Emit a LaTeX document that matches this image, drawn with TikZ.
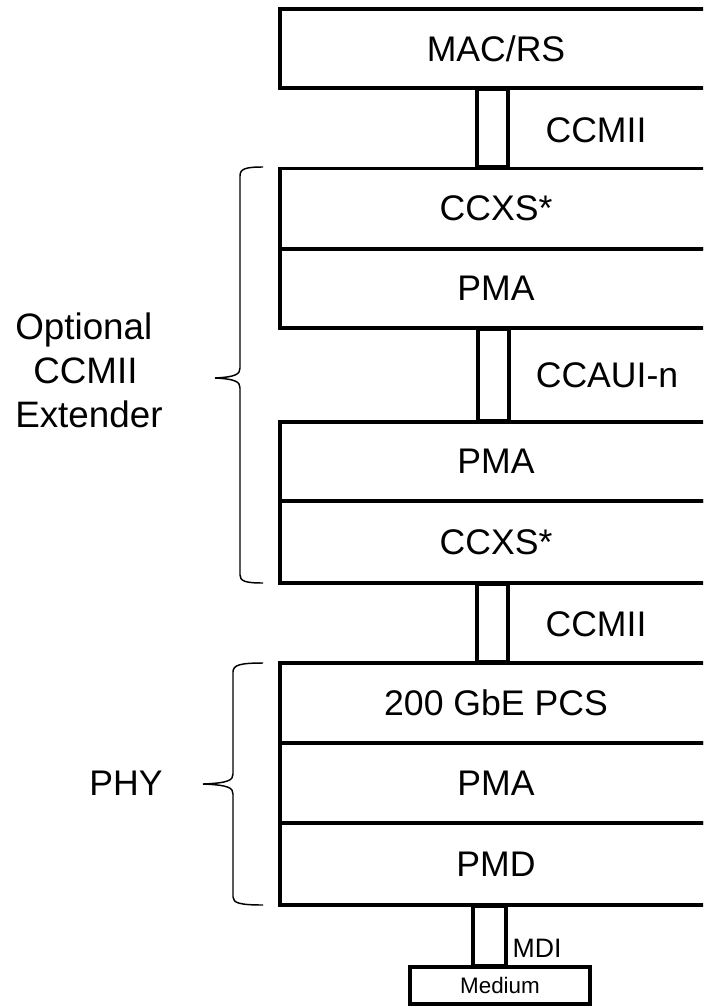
\documentclass[tikz,border=0pt]{standalone}
\usepackage{fontspec}
\setmainfont{Liberation Sans}
\usetikzlibrary{calc}
\newcommand{\layerfont}{\fontsize{26.7}{33}\selectfont}

\begin{document}
\begin{tikzpicture}[x=0.75pt,y=-0.75pt,
  layer/.style={draw,line width=2.6pt,rectangle,minimum width=324pt,minimum height=60pt,inner sep=0pt,font=\layerfont},
  link/.style={draw,line width=2.6pt},
  brc/.style={draw,line width=1.1pt},
  lbl/.style={font=\layerfont,inner sep=0pt}]
\useasboundingbox (0,0) rectangle (703,1006);
\clip (0,0) rectangle (703,1006);
% layers
\node[layer,minimum height=59.25pt] (MAC) at (496,48.5) {MAC/RS};
\node[layer] (CCXSA) at (496,208.5) {CCXS*};
\node[layer,minimum height=59.25pt] (PMAA) at (496,288.5) {PMA};
\node[layer,minimum height=59.25pt] (PMAB) at (496,461.5) {PMA};
\node[layer,minimum height=61.5pt] (CCXSB) at (496,542) {CCXS*};
\node[layer] (PCS) at (496,703) {200 GbE PCS};
\node[layer] (PMAC) at (496,783) {PMA};
\node[layer,minimum height=61.5pt] (PMD) at (496,864) {PMD};
\node[draw,line width=2.6pt,rectangle,minimum width=135pt,minimum height=27.75pt,inner sep=0pt,font=\fontsize{16.8}{20}\selectfont] (MED) at (500,985.5) {Medium};
% interfaces
\draw[link] ($(MAC.south)+(-19,0)$) rectangle ($(CCXSA.north)+(12,0)$);
\draw[link] ($(PMAA.south)+(-18,0)$) rectangle ($(PMAB.north)+(13,0)$);
\draw[link] ($(CCXSB.south)+(-19,0)$) rectangle ($(PCS.north)+(12,0)$);
\draw[link] ($(PMD.south)+(-23,0)$) rectangle ($(MED.north)+(6,0)$);
\node[lbl] (L1) at (596,130) {CCMII};
\node[lbl] (L2) at (607,375) {CCAUI-n};
\node[lbl] (L3) at (596,624) {CCMII};
\node[inner sep=0pt,font=\fontsize{20}{24}\selectfont] (L4) at (537,948) {MDI};
% braces
\draw[brc] (263,167) .. controls (245,167) and (240,169) .. (240,176) -- (240,368)
  .. controls (240,374) and (236,377) .. (215,378)
  .. controls (236,379) and (240,382) .. (240,388) -- (240,575)
  .. controls (240,581) and (245,583) .. (263,583);
\draw[brc] (263,663) .. controls (240,663) and (233,665) .. (233,672) -- (233,774)
  .. controls (233,780) and (229,783) .. (203,784)
  .. controls (229,785) and (233,788) .. (233,794) -- (233,897)
  .. controls (233,903) and (240,905) .. (263,905);
\node[lbl,align=left,anchor=west,font=\fontsize{27.6}{33}\selectfont] (EXT) at (15,370) {Optional\\\hspace*{13.5pt}CCMII\\Extender};
\node[lbl] (PHY) at (126,783) {PHY};
\end{tikzpicture}
\end{document}
